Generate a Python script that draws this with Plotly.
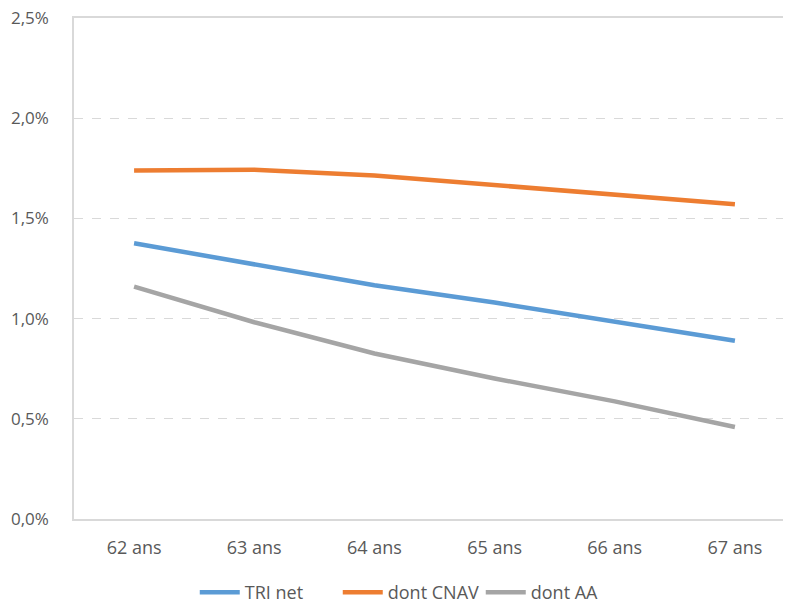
import plotly.graph_objects as go

categories = ["62 ans", "63 ans", "64 ans", "65 ans", "66 ans", "67 ans"]
tri_net = [1.376, 1.273, 1.166, 1.080, 0.984, 0.889]
dont_cnav = [1.739, 1.743, 1.714, 1.667, 1.619, 1.571]
dont_aa = [1.160, 0.982, 0.826, 0.701, 0.587, 0.459]
y_ticks = [0.0, 0.5, 1.0, 1.5, 2.0, 2.5]
y_tick_labels = ["0,0%", "0,5%", "1,0%", "1,5%", "2,0%", "2,5%"]

series = [
    ("TRI net", tri_net, "#5B9BD5"),
    ("dont CNAV", dont_cnav, "#ED7D31"),
    ("dont AA", dont_aa, "#A5A5A5"),
]

fig = go.Figure()
for name, vals, col in series:
    fig.add_trace(go.Scatter(x=categories, y=vals, name=name, mode="lines",
                             line=dict(color=col, width=4.5)))

font_family = "Open Sans, Noto Sans, DejaVu Sans, sans-serif"
fig.update_layout(
    width=791, height=603,
    margin=dict(l=66, r=4, t=10, b=92, autoexpand=False),
    plot_bgcolor="white", paper_bgcolor="white",
    font=dict(family=font_family, size=18, color="#595959"),
    showlegend=True,
    legend=dict(orientation="h", x=0.465, xanchor="center", y=-0.147, yanchor="middle",
                font=dict(size=18, color="#595959"), itemwidth=40, tracegroupgap=0,
                entrywidthmode="pixels", entrywidth=88),
    xaxis=dict(type="category", range=[-0.5, 5.5], showgrid=False, automargin=False,
               showline=True, linecolor="#D9D9D9", linewidth=1.5, mirror=True,
               ticks="", ticklabelstandoff=12, ticklabeloverflow="allow",
               tickfont=dict(size=18, color="#595959")),
    yaxis=dict(range=[0, 2.5], tickmode="array", tickvals=y_ticks, ticktext=y_tick_labels,
               automargin=False, ticklabeloverflow="allow",
               showgrid=True, gridcolor="#D9D9D9", griddash="dash", gridwidth=1,
               showline=True, linecolor="#D9D9D9", linewidth=1.5,
               zeroline=False, ticks="", ticklabelstandoff=20,
               tickfont=dict(size=17, color="#595959")),
)

fig.write_html("out.html")
